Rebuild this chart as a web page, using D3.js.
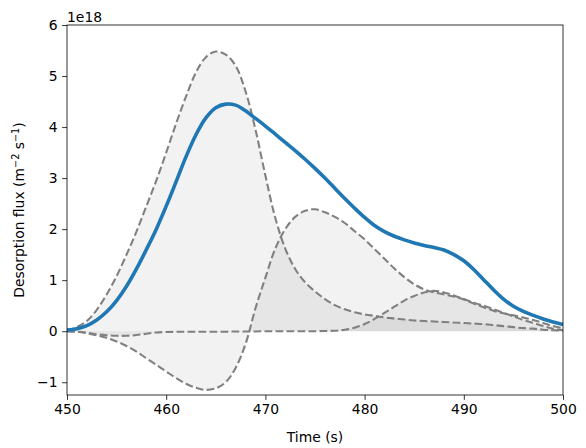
<!DOCTYPE html>
<html>
<head>
<meta charset="utf-8">
<script src="https://cdn.jsdelivr.net/npm/d3@7"></script>
<style>
  body { margin: 0; background: #fff; }
  svg { font-family: "DejaVu Sans", sans-serif; }
</style>
</head>
<body>
<svg width="586" height="448"></svg>
<script>
// time (s) and fluxes in units of 1e18 m^-2 s^-1
var time = [450, 451, 452, 453, 454, 455, 456, 457, 458, 459,
            460, 461, 462, 463, 464, 465, 466, 467, 468, 469,
            470, 471, 472, 473, 474, 475, 476, 477, 478, 479,
            480, 481, 482, 483, 484, 485, 486, 487, 488, 489,
            490, 491, 492, 493, 494, 495, 496, 497, 498, 499, 500];

var totalFlux = [0.02, 0.05, 0.11, 0.22, 0.38, 0.60, 0.88, 1.22, 1.60, 2.00,
                 2.45, 2.93, 3.42, 3.85, 4.18, 4.38, 4.45, 4.43, 4.32, 4.17,
                 4.02, 3.86, 3.70, 3.54, 3.37, 3.19, 3.00, 2.80, 2.60, 2.41,
                 2.23, 2.07, 1.95, 1.86, 1.79, 1.73, 1.68, 1.64, 1.59, 1.50,
                 1.38, 1.21, 1.01, 0.81, 0.63, 0.49, 0.39, 0.31, 0.24, 0.18, 0.13];

var peak1 = [0.00, 0.08, 0.20, 0.42, 0.72, 1.08, 1.50, 1.95, 2.45, 2.95,
             3.50, 4.07, 4.60, 5.07, 5.37, 5.48, 5.42, 5.20, 4.70, 3.95,
             3.05, 2.22, 1.62, 1.22, 0.96, 0.78, 0.63, 0.51, 0.43, 0.37,
             0.33, 0.30, 0.27, 0.25, 0.23, 0.21, 0.20, 0.19, 0.18, 0.17,
             0.16, 0.15, 0.14, 0.12, 0.10, 0.08, 0.06, 0.05, 0.03, 0.02, 0.01];

var peak2 = [0.00, -0.01, -0.04, -0.08, -0.13, -0.20, -0.29, -0.40, -0.53, -0.66,
             -0.79, -0.92, -1.03, -1.11, -1.15, -1.12, -1.00, -0.72, -0.25, 0.45,
             1.05, 1.62, 2.00, 2.24, 2.36, 2.39, 2.33, 2.24, 2.12, 1.96,
             1.80, 1.61, 1.42, 1.23, 1.06, 0.92, 0.82, 0.76, 0.72, 0.68,
             0.62, 0.54, 0.47, 0.40, 0.35, 0.31, 0.27, 0.22, 0.16, 0.10, 0.06];

var peak3 = [0.00, -0.01, -0.03, -0.06, -0.08, -0.09, -0.09, -0.075, -0.05, -0.025,
             -0.015, -0.012, -0.01, -0.01, -0.01, -0.01, -0.01, -0.005, -0.005, -0.005,
             0.00, 0.00, 0.00, 0.00, 0.00, 0.00, 0.005, 0.01, 0.03, 0.07,
             0.14, 0.24, 0.36, 0.48, 0.60, 0.69, 0.76, 0.79, 0.76, 0.70,
             0.63, 0.56, 0.50, 0.43, 0.36, 0.29, 0.22, 0.16, 0.10, 0.05, 0.02];

var xTicks = [450, 460, 470, 480, 490, 500];
var yTicks = [-1, 0, 1, 2, 3, 4, 5, 6];

var svg = d3.select("svg"),
    margin = {top: 25, right: 23, bottom: 53, left: 67},
    width = +svg.attr("width") - margin.left - margin.right,
    height = +svg.attr("height") - margin.top - margin.bottom;

var x = d3.scaleLinear().domain([450, 500]).range([0, width]);
var y = d3.scaleLinear().domain([-1.25, 6]).range([height, 0]);

var g = svg.append("g")
    .attr("transform", "translate(" + margin.left + "," + margin.top + ")");

g.append("clipPath").attr("id", "clip")
  .append("rect").attr("width", width).attr("height", height);

var plot = g.append("g").attr("clip-path", "url(#clip)");

var components = [peak1, peak2, peak3];

var area = d3.area()
    .x(function(d, i) { return x(time[i]); })
    .y0(y(0))
    .y1(function(d) { return y(d); })
    .curve(d3.curveCatmullRom);

var line = d3.line()
    .x(function(d, i) { return x(time[i]); })
    .y(function(d) { return y(d); })
    .curve(d3.curveCatmullRom);

plot.selectAll(".fill")
  .data(components)
  .enter().append("path")
    .attr("class", "fill")
    .attr("d", area)
    .attr("fill", "grey")
    .attr("fill-opacity", 0.1);

plot.selectAll(".comp")
  .data(components)
  .enter().append("path")
    .attr("class", "comp")
    .attr("d", line)
    .attr("fill", "none")
    .attr("stroke", "grey")
    .attr("stroke-width", 2.08)
    .attr("stroke-dasharray", "7.7,3.3");

plot.append("path")
  .attr("d", line(totalFlux))
  .attr("fill", "none")
  .attr("stroke", "#1f77b4")
  .attr("stroke-width", 3.6)
  .attr("stroke-linejoin", "round");

// axes
var xAxis = g.append("g")
    .attr("transform", "translate(0," + height + ")")
    .call(d3.axisBottom(x).tickValues(xTicks).tickSize(4.86).tickPadding(4.6).tickFormat(d3.format("d")));

var yAxis = g.append("g")
    .call(d3.axisLeft(y).tickValues(yTicks).tickSize(4.86).tickPadding(4.6).tickFormat(d3.format("d")));

[xAxis, yAxis].forEach(function(a) {
  a.select(".domain").remove();
  a.selectAll("line").attr("stroke", "#000").attr("stroke-width", 0.8);
  a.selectAll("text").attr("fill", "#000").style("font-size", "13.9px")
    .style("font-family", "DejaVu Sans, sans-serif");
});

g.append("rect")
  .attr("width", width)
  .attr("height", height)
  .attr("fill", "none")
  .attr("stroke", "#000")
  .attr("stroke-width", 0.8);

g.append("text")
  .attr("x", 0)
  .attr("y", -3.5)
  .style("font-size", "13.9px")
  .text("1e18");

g.append("text")
  .attr("x", width / 2)
  .attr("y", height + 47)
  .attr("text-anchor", "middle")
  .style("font-size", "13.9px")
  .text("Time (s)");

var ylab = svg.append("text")
  .attr("transform", "translate(24," + (margin.top + height / 2) + ") rotate(-90)")
  .attr("text-anchor", "middle")
  .style("font-size", "13.9px");
ylab.append("tspan").text("Desorption flux (m");
ylab.append("tspan").attr("dy", -5.5).style("font-size", "9.7px").text("\u22122");
ylab.append("tspan").attr("dy", 5.5).text(" s");
ylab.append("tspan").attr("dy", -5.5).style("font-size", "9.7px").text("\u22121");
ylab.append("tspan").attr("dy", 5.5).text(")");
</script>
</body>
</html>
